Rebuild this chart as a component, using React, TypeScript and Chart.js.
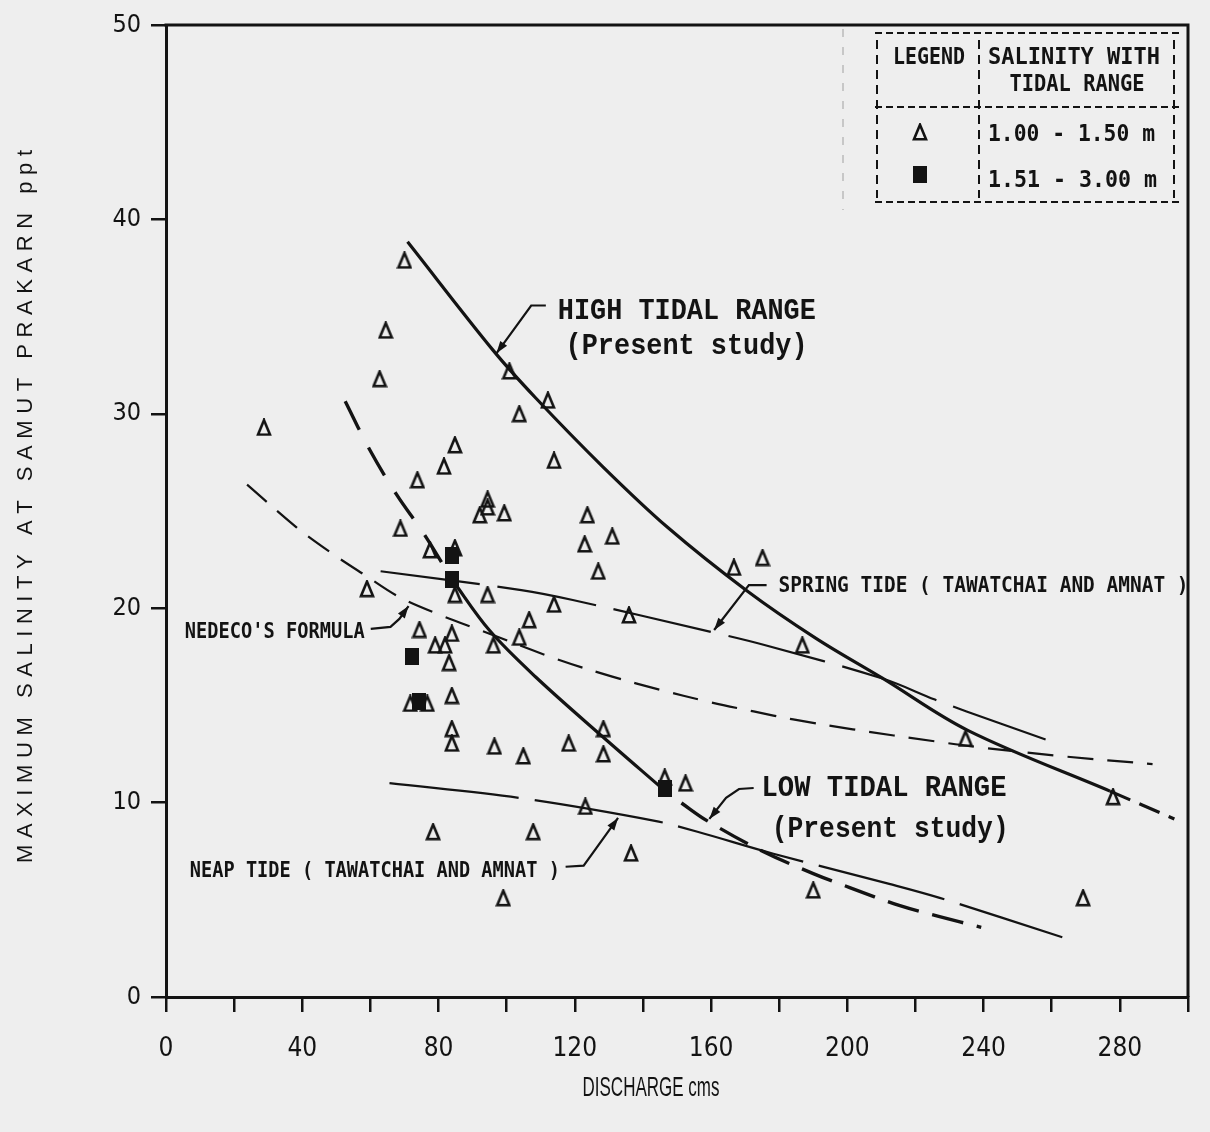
import React, { useEffect, useRef } from 'react';
import { Chart, registerables } from 'chart.js';

Chart.register(...registerables);

// ---------------- data ----------------
const X_TICK_LABELS = ['0', '40', '80', '120', '160', '200', '240', '280'];
const Y_TICK_LABELS = ['0', '10', '20', '30', '40', '50'];

// observed salinity, tidal range 1.00 - 1.50 m (triangles)
const triangleX = [
  28.75, 70.0, 64.5, 62.7, 84.8, 81.6, 73.8, 94.4, 94.4, 92.1, 99.3, 68.8, 77.5, 84.8, 84.8,
  94.4, 59.0, 106.6, 103.7, 113.9, 74.4, 79.0, 81.9, 83.9, 83.1, 96.1, 83.9, 71.7, 76.7, 83.9,
  83.9, 96.4, 104.9, 78.4, 107.8, 99.0, 100.8, 103.7, 112.1, 113.9, 123.7, 122.9, 131.0, 126.9,
  135.9, 166.7, 175.1, 186.8, 128.4, 118.2, 128.4, 146.4, 152.5, 123.1, 136.5, 190.0, 234.7,
  278.0, 269.2,
];
const triangleY = [
  29.3, 37.9, 34.3, 31.8, 28.4, 27.3, 26.6, 25.6, 25.2, 24.8, 24.9, 24.1, 23.0, 23.1, 20.7,
  20.7, 21.0, 19.4, 18.5, 20.2, 18.9, 18.1, 18.1, 18.7, 17.2, 18.1, 15.5, 15.1, 15.1, 13.8,
  13.05, 12.9, 12.4, 8.5, 8.5, 5.1, 32.2, 30.0, 30.7, 27.6, 24.8, 23.3, 23.7, 21.9,
  19.65, 22.1, 22.6, 18.1, 13.8, 13.05, 12.5, 11.3, 11.0, 9.8, 7.4, 5.5, 13.3,
  10.3, 5.1,
];

// observed salinity, tidal range 1.51 - 3.00 m (squares)
const squareX = [83.9, 83.9, 72.3, 74.4, 146.4];
const squareY = [22.7, 21.5, 17.5, 15.2, 10.7];

// HIGH TIDAL RANGE (present study)
const highRangeX = [70.9, 96.1, 108.6, 128.1, 147.3, 170.5, 190.8, 210.3, 235.5, 277.1];
const highRangeY = [38.85, 33.25, 30.8, 27.3, 24.15, 20.9, 18.45, 16.4, 13.7, 10.59];
const highRangeExtX = [277.1, 296.0];
const highRangeExtY = [10.59, 9.16];

// LOW TIDAL RANGE (present study)
const lowRangeUpperX = [52.6, 59.8, 67.7, 75.8, 83.9];
const lowRangeUpperY = [30.65, 28.15, 25.84, 23.8, 21.49];
const lowRangeX = [83.9, 95.0, 108.6, 128.1, 145.5];
const lowRangeY = [21.49, 18.85, 16.45, 13.4, 10.75];
const lowRangeExtX = [151.3, 158.9, 174.8, 190.0, 200.7, 215.2, 226.8, 239.3];
const lowRangeExtY = [9.98, 9.06, 7.52, 6.35, 5.63, 4.71, 4.15, 3.58];

// SPRING TIDE (Tawatchai and Amnat)
const springX = [63.0, 104.3, 119.4, 160.0, 175.4, 210.3, 225.7, 235.0, 258.2];
const springY = [21.9, 20.93, 20.42, 18.78, 18.12, 16.38, 15.3, 14.69, 13.25];

// NEAP TIDE (Tawatchai and Amnat)
const neapX = [65.6, 103.7, 143.5, 156.0, 178.3, 212.3, 227.1, 263.1];
const neapY = [11.0, 10.24, 9.06, 8.5, 7.37, 5.82, 5.1, 3.07];

// NEDECO's formula
const nedecoX = [23.8, 38.3, 48.2, 58.4, 68.5, 80.5, 92.1, 114.4, 131.0, 144.9, 158.9, 172.5, 184.1, 201.6, 225.7, 238.5, 263.4, 289.6];
const nedecoY = [26.36, 24.16, 22.88, 21.7, 20.57, 19.65, 18.88, 17.4, 16.48, 15.81, 15.2, 14.69, 14.28, 13.77, 13.15, 12.85, 12.38, 11.98];

// ---------------- styling ----------------
const INK = '#131313';
const PAPER = '#eeeeee';
const MONO = "'DejaVu Sans Mono', 'Liberation Mono', monospace";
const TYPE = "'Liberation Mono', 'Courier New', monospace";
const SANS = "'Liberation Sans', Arial, sans-serif";
const TICK_FAMILY = "'DejaVu Sans Condensed', 'Liberation Sans Narrow', 'Liberation Sans', sans-serif";

const pts = (xs: number[], ys: number[]) => xs.map((x, i) => ({ x, y: ys[i] }));

function makeTriangle(): HTMLCanvasElement {
  const c = document.createElement('canvas');
  c.width = 16; c.height = 18;
  const g = c.getContext('2d')!;
  g.strokeStyle = INK; g.lineWidth = 2.6; g.lineJoin = 'miter';
  g.beginPath(); g.moveTo(8, 1.8); g.lineTo(2, 16.3); g.lineTo(14, 16.3); g.closePath(); g.stroke();
  return c;
}
function makeSquare(): HTMLCanvasElement {
  const c = document.createElement('canvas');
  c.width = 14; c.height = 17;
  const g = c.getContext('2d')!;
  g.fillStyle = INK; g.fillRect(0, 0, 14, 17);
  return c;
}

function fitText(ctx: CanvasRenderingContext2D, text: string, x: number, cy: number, family: string, weight: string, width: number, cap: number, align: CanvasTextAlign = 'left') {
  ctx.save();
  ctx.font = `${weight} 40px ${family}`;
  const w = ctx.measureText(text).width;
  const capH = ctx.measureText('H').actualBoundingBoxAscent || 29;
  ctx.translate(x, cy + cap / 2);
  ctx.scale(width / w, cap / capH);
  ctx.textAlign = align;
  ctx.textBaseline = 'alphabetic';
  ctx.fillStyle = INK;
  ctx.fillText(text, 0, 0);
  ctx.restore();
}

function spacedVertical(ctx: CanvasRenderingContext2D, text: string, cx: number, bottomY: number, topY: number, font: string) {
  ctx.save();
  ctx.font = font;
  const chars = text.split('');
  const widths = chars.map((ch) => ctx.measureText(ch).width);
  const natural = widths.reduce((a, b) => a + b, 0);
  const span = bottomY - topY;
  const gap = (span - natural) / (chars.length - 1);
  const capH = ctx.measureText('H').actualBoundingBoxAscent || 16;
  ctx.translate(cx, bottomY);
  ctx.rotate(-Math.PI / 2);
  ctx.fillStyle = INK;
  ctx.textBaseline = 'alphabetic';
  ctx.textAlign = 'left';
  let pos = 0;
  chars.forEach((ch, i) => {
    ctx.fillText(ch, pos, capH / 2);
    pos += widths[i] + gap;
  });
  ctx.restore();
}

function arrow(ctx: CanvasRenderingContext2D, p: [number, number][], head = 13) {
  ctx.save();
  ctx.strokeStyle = INK; ctx.fillStyle = INK; ctx.lineWidth = 2.2; ctx.setLineDash([]);
  ctx.beginPath();
  ctx.moveTo(p[0][0], p[0][1]);
  for (let i = 1; i < p.length; i++) ctx.lineTo(p[i][0], p[i][1]);
  ctx.stroke();
  const [x1, y1] = p[p.length - 2];
  const [x2, y2] = p[p.length - 1];
  const a = Math.atan2(y2 - y1, x2 - x1);
  ctx.beginPath();
  ctx.moveTo(x2, y2);
  ctx.lineTo(x2 - head * Math.cos(a - 0.33), y2 - head * Math.sin(a - 0.33));
  ctx.lineTo(x2 - head * Math.cos(a + 0.33), y2 - head * Math.sin(a + 0.33));
  ctx.closePath();
  ctx.fill();
  ctx.restore();
}

export default function App() {
  const ref = useRef<HTMLCanvasElement | null>(null);

  useEffect(() => {
    document.body.style.margin = '0';
    document.body.style.background = PAPER;
    const canvas = ref.current!;
    const tri = makeTriangle();
    const sq = makeSquare();

    const decor = {
      id: 'decor',
      beforeDraw(chart: any) {
        const { ctx, width, height } = chart;
        ctx.save(); ctx.fillStyle = PAPER; ctx.fillRect(0, 0, width, height); ctx.restore();
      },
      afterDraw(chart: any) {
        const ctx: CanvasRenderingContext2D = chart.ctx;
        const xs = chart.scales.x, ys = chart.scales.y;
        const X = (v: number) => xs.getPixelForValue(v);
        const Y = (v: number) => ys.getPixelForValue(v);
        const P = (x: number, y: number): [number, number] => [X(x), Y(y)];
        const { left, right, top, bottom } = chart.chartArea;

        // frame (top + right)
        ctx.save();
        ctx.strokeStyle = INK; ctx.lineWidth = 3;
        ctx.beginPath(); ctx.moveTo(left - 1.5, top); ctx.lineTo(right, top); ctx.lineTo(right, bottom); ctx.stroke();
        ctx.restore();

        // curve labels (typewriter serif)
        fitText(ctx, 'HIGH TIDAL RANGE', X(115.0), Y(35.4), TYPE, 'bold', 258, 20);
        fitText(ctx, '(Present study)', X(117.3), Y(33.6), TYPE, 'bold', 242, 20);
        fitText(ctx, 'LOW TIDAL RANGE', X(174.8), Y(10.85), TYPE, 'bold', 245, 20);
        fitText(ctx, '(Present study)', X(177.8), Y(8.75), TYPE, 'bold', 237, 20);

        // curve labels (dot-matrix)
        fitText(ctx, 'SPRING TIDE ( TAWATCHAI AND AMNAT )', X(179.8), Y(21.24), MONO, 'bold', 410, 16);
        fitText(ctx, "NEDECO'S FORMULA", X(5.5), Y(18.9), MONO, 'bold', 180, 16);
        fitText(ctx, 'NEAP TIDE ( TAWATCHAI AND AMNAT )', X(7.0), Y(6.6), MONO, 'bold', 370, 16);

        // leader arrows
        arrow(ctx, [P(111.5, 35.57), P(107.2, 35.57), P(97.0, 33.11)]);
        arrow(ctx, [P(176.3, 21.19), P(171.1, 21.19), P(160.9, 18.88)]);
        arrow(ctx, [P(60.1, 18.94), P(65.9, 19.04), P(68.5, 19.45), P(71.2, 20.11)]);
        arrow(ctx, [P(172.5, 10.75), P(168.2, 10.7), P(164.4, 10.24), P(159.5, 9.16)]);
        arrow(ctx, [P(117.3, 6.7), P(122.6, 6.76), P(132.7, 9.21)]);

        // legend table
        ctx.save();
        ctx.strokeStyle = '#bbbbbb'; ctx.lineWidth = 1.5; ctx.setLineDash([8, 10]);
        ctx.beginPath(); ctx.moveTo(843, top + 4); ctx.lineTo(843, 210); ctx.stroke();
        ctx.strokeStyle = INK; ctx.lineWidth = 2; ctx.setLineDash([7, 4]);
        [33, 107, 202].forEach((yy) => { ctx.beginPath(); ctx.moveTo(875, yy); ctx.lineTo(1182, yy); ctx.stroke(); });
        ctx.setLineDash([9, 6]);
        [877, 979, 1174].forEach((xx) => { ctx.beginPath(); ctx.moveTo(xx, 40); ctx.lineTo(xx, 198); ctx.stroke(); });
        ctx.restore();
        fitText(ctx, 'LEGEND', 929, 55, MONO, 'bold', 72, 17, 'center');
        fitText(ctx, 'SALINITY WITH', 1074, 55, MONO, 'bold', 172, 17, 'center');
        fitText(ctx, 'TIDAL RANGE', 1077, 82, MONO, 'bold', 135, 17, 'center');
        fitText(ctx, '1.00 - 1.50 m', 988, 132, MONO, 'bold', 167, 17);
        fitText(ctx, '1.51 - 3.00 m', 988, 178, MONO, 'bold', 169, 17);
        ctx.drawImage(tri, 920 - tri.width / 2, 132 - tri.height / 2);
        ctx.drawImage(sq, 920 - sq.width / 2, 174 - sq.height / 2);

        // axis titles
        spacedVertical(ctx, 'MAXIMUM SALINITY AT SAMUT PRAKARN ppt', 24, 863, 150, `22px ${SANS}`);
        fitText(ctx, 'DISCHARGE cms', 651, 1086, SANS, 'normal', 137, 19, 'center');
      },
    };

    const line = (xs: number[], ys: number[], width: number, dash: number[]) => ({
      data: pts(xs, ys),
      showLine: true,
      pointRadius: 0,
      borderColor: INK,
      borderWidth: width,
      borderDash: dash,
      tension: 0.35,
      fill: false,
    });

    const chart = new Chart(canvas, {
      type: 'scatter',
      data: {
        datasets: [
          { label: '1.51 - 3.00 m', data: pts(squareX, squareY), pointStyle: sq as any, pointRadius: 8, showLine: false },
          { label: '1.00 - 1.50 m', data: pts(triangleX, triangleY), pointStyle: tri as any, pointRadius: 8, showLine: false },
          { label: 'HIGH TIDAL RANGE', ...line(highRangeX, highRangeY, 3.2, []) },
          { label: 'HIGH TIDAL RANGE ext', ...line(highRangeExtX, highRangeExtY, 3.2, [22, 10]) },
          { label: 'LOW TIDAL RANGE upper', ...line(lowRangeUpperX, lowRangeUpperY, 3.4, [32, 20]) },
          { label: 'LOW TIDAL RANGE', ...line(lowRangeX, lowRangeY, 3.2, []) },
          { label: 'LOW TIDAL RANGE ext', ...line(lowRangeExtX, lowRangeExtY, 3.4, [32, 14]) },
          { label: 'SPRING TIDE', ...line(springX, springY, 2.2, [100, 18]) },
          { label: 'NEAP TIDE', ...line(neapX, neapY, 2.2, [130, 16]) },
          { label: "NEDECO'S FORMULA", ...line(nedecoX, nedecoY, 2.2, [26, 14]) },
        ] as any,
      },
      options: {
        responsive: false,
        animation: false,
        devicePixelRatio: 1,
        events: [],
        layout: { padding: { left: 0, right: 11, top: 20, bottom: 0 } },
        plugins: { legend: { display: false }, tooltip: { enabled: false }, title: { display: false } },
        scales: {
          x: {
            type: 'linear',
            min: 0,
            max: 300,
            afterFit: (s: any) => { s.height = 135; },
            border: { display: true, color: INK, width: 3 },
            grid: { drawOnChartArea: false, drawTicks: true, tickLength: 15, color: INK, lineWidth: 2.5 },
            ticks: {
              stepSize: 20,
              autoSkip: false,
              maxRotation: 0,
              minRotation: 0,
              padding: 22,
              color: INK,
              font: { family: TICK_FAMILY, size: 26 },
              callback: (v: any) => (X_TICK_LABELS.includes(String(v)) ? String(v) : ''),
            },
          },
          y: {
            type: 'linear',
            min: 0,
            max: 50,
            afterFit: (s: any) => { s.width = 166; },
            border: { display: true, color: INK, width: 3 },
            grid: { drawOnChartArea: false, drawTicks: true, tickLength: 15, color: INK, lineWidth: 2.5 },
            ticks: {
              stepSize: 10,
              autoSkip: false,
              padding: 10,
              color: INK,
              font: { family: TICK_FAMILY, size: 25 },
              callback: (v: any) => (Y_TICK_LABELS.includes(String(v)) ? String(v) : ''),
            },
          },
        },
      } as any,
      plugins: [decor as any],
    });

    return () => chart.destroy();
  }, []);

  return <canvas ref={ref} width={1210} height={1132} style={{ display: 'block', width: 1210, height: 1132 }} />;
}
